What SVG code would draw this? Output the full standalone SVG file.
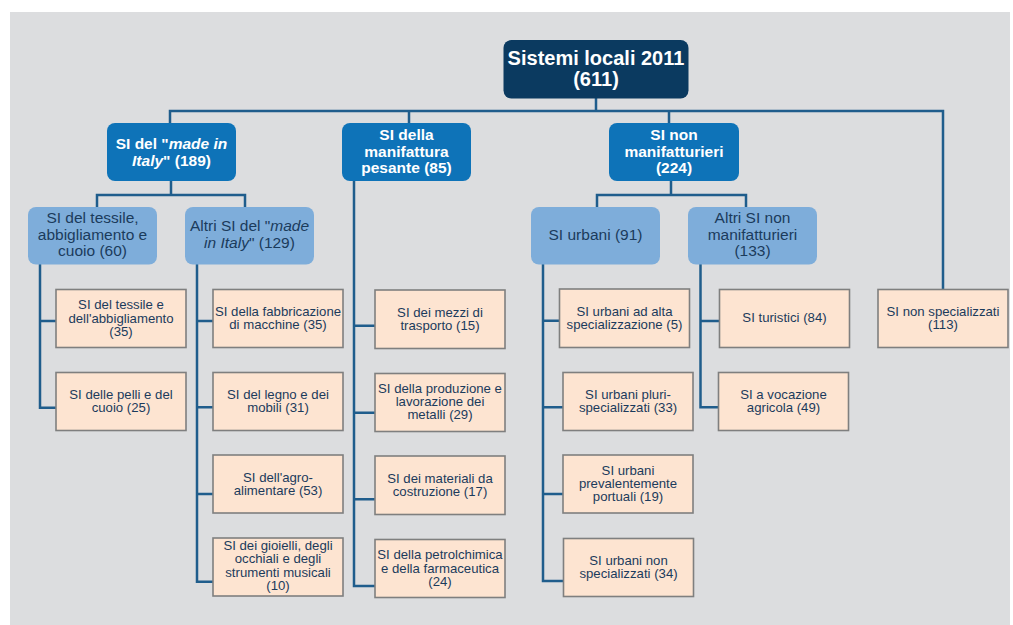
<svg xmlns="http://www.w3.org/2000/svg" width="1013" height="625" viewBox="0 0 1013 625">
<style>
.root{fill:#0b3a60;}
.l1{fill:#0e73b8;}
.l2{fill:#7eadda;}
.leaf{fill:#fde4d1;stroke:#7f7f7f;stroke-width:1.6;}
.conn{fill:none;stroke:#1f5d8c;stroke-width:2.5;}
text{font-family:"Liberation Sans",Arial,sans-serif;text-anchor:middle;}
.tw{fill:#ffffff;font-weight:bold;font-size:15.5px;}
.tr{fill:#ffffff;font-weight:bold;font-size:20px;}
.t2{fill:#1b3b5c;font-size:15.5px;}
.t3{fill:#1b3b5c;font-size:13.2px;}
.i{font-style:italic;}
</style>
<rect x="10" y="12" width="1000" height="613" fill="#dcdddf"/>
<g id="connectors">
<path class="conn" d="M596,98 V111 M170,124 V111 H943 V289.5 M409,111 V124 M669,111 V124"/>
<path class="conn" d="M171,181 V195 M97,207 V195 H245 V207"/>
<path class="conn" d="M671,181 V195 M597,207 V195 H746 V207"/>
<path class="conn" d="M40,264 V407.7 H56 M40,321 H56"/>
<path class="conn" d="M197,264 V581.7 H213 M197,321 H213 M197,407.3 H213 M197,494 H213"/>
<path class="conn" d="M354,181 V586 H375 M354,325.7 H375 M354,412.7 H375 M354,499.3 H375"/>
<path class="conn" d="M543,264 V581 H563.5 M543,320.7 H559.5 M543,407.3 H563 M543,494 H563"/>
<path class="conn" d="M700.5,264 V407.3 H718.5 M700.5,321 H719.5"/>
</g>
<g id="n-root"><rect class="root" x="503.5" y="40" width="185" height="58.5" rx="8"/>
<text class="tr" x="596" y="65">Sistemi locali 2011</text><text class="tr" x="596" y="86">(611)</text></g>
<g id="n-made"><rect class="l1" x="107" y="123" width="129" height="58" rx="8"/>
<text class="tw" x="171.5" y="149">SI del "<tspan class="i">made in</tspan></text>
<text class="tw" x="171.5" y="166"><tspan class="i">Italy</tspan>" (189)</text></g>
<g id="n-pesante"><rect class="l1" x="342" y="123" width="129" height="58" rx="8"/>
<text class="tw" x="406.5" y="140">SI della</text><text class="tw" x="406.5" y="156.5">manifattura</text><text class="tw" x="406.5" y="172.5">pesante (85)</text></g>
<g id="n-nonman"><rect class="l1" x="609" y="123" width="130" height="58" rx="8"/>
<text class="tw" x="674" y="140">SI non</text><text class="tw" x="674" y="156.5">manifatturieri</text><text class="tw" x="674" y="172.5">(224)</text></g>
<g id="n-tessile60"><rect class="l2" x="28" y="207" width="129" height="57.5" rx="8"/>
<text class="t2" x="92.5" y="223">SI del tessile,</text><text class="t2" x="92.5" y="239.5">abbigliamento e</text><text class="t2" x="92.5" y="255.5">cuoio (60)</text></g>
<g id="n-altrimade"><rect class="l2" x="185" y="207" width="129" height="57.5" rx="8"/>
<text class="t2" x="249.5" y="231">Altri SI del "<tspan class="i">made</tspan></text>
<text class="t2" x="249.5" y="247.5"><tspan class="i">in Italy</tspan>" (129)</text></g>
<g id="n-urbani"><rect class="l2" x="531" y="207" width="129" height="57.5" rx="8"/>
<text class="t2" x="595.5" y="240">SI urbani (91)</text></g>
<g id="n-altrinon"><rect class="l2" x="688" y="207" width="129" height="57.5" rx="8"/>
<text class="t2" x="752.5" y="223">Altri SI non</text><text class="t2" x="752.5" y="239.5">manifatturieri</text><text class="t2" x="752.5" y="255.5">(133)</text></g>
<g id="n-tessile35"><rect class="leaf" x="56" y="289.5" width="130" height="58"/>
<text class="t3" x="121" y="309.3">SI del tessile e</text><text class="t3" x="121" y="322.7">dell'abbigliamento</text><text class="t3" x="121" y="336">(35)</text></g>
<g id="n-pelli"><rect class="leaf" x="56" y="372.5" width="130" height="58"/>
<text class="t3" x="121" y="399">SI delle pelli e del</text><text class="t3" x="121" y="412.3">cuoio (25)</text></g>
<g id="n-macchine"><rect class="leaf" x="213" y="289.5" width="130" height="58"/>
<text class="t3" x="278" y="316">SI della fabbricazione</text><text class="t3" x="278" y="329.3">di macchine (35)</text></g>
<g id="n-legno"><rect class="leaf" x="213" y="372.5" width="130" height="58"/>
<text class="t3" x="278" y="399">SI del legno e dei</text><text class="t3" x="278" y="412.3">mobili (31)</text></g>
<g id="n-agro"><rect class="leaf" x="213" y="455" width="130" height="58"/>
<text class="t3" x="278" y="481.7">SI dell'agro-</text><text class="t3" x="278" y="495">alimentare (53)</text></g>
<g id="n-gioielli"><rect class="leaf" x="213" y="538" width="130" height="58"/>
<text class="t3" x="278" y="550">SI dei gioielli, degli</text><text class="t3" x="278" y="563.3">occhiali e degli</text><text class="t3" x="278" y="576.7">strumenti musicali</text><text class="t3" x="278" y="590">(10)</text></g>
<g id="n-mezzi"><rect class="leaf" x="375" y="290" width="130" height="58.5"/>
<text class="t3" x="440" y="316.7">SI dei mezzi di</text><text class="t3" x="440" y="330">trasporto (15)</text></g>
<g id="n-metalli"><rect class="leaf" x="375" y="373.5" width="130" height="58"/>
<text class="t3" x="440" y="392.7">SI della produzione e</text><text class="t3" x="440" y="406">lavorazione dei</text><text class="t3" x="440" y="419.3">metalli (29)</text></g>
<g id="n-materiali"><rect class="leaf" x="375" y="456" width="130" height="58.5"/>
<text class="t3" x="440" y="482.7">SI dei materiali da</text><text class="t3" x="440" y="496">costruzione (17)</text></g>
<g id="n-petrol"><rect class="leaf" x="375" y="539.5" width="130" height="58"/>
<text class="t3" x="440" y="559.3">SI della petrolchimica</text><text class="t3" x="440" y="572.7">e della farmaceutica</text><text class="t3" x="440" y="586">(24)</text></g>
<g id="n-urbalta"><rect class="leaf" x="559.5" y="289" width="130" height="58.5"/>
<text class="t3" x="624.5" y="316">SI urbani ad alta</text><text class="t3" x="624.5" y="329.3">specializzazione (5)</text></g>
<g id="n-urbpluri"><rect class="leaf" x="563" y="372.5" width="130" height="58"/>
<text class="t3" x="628" y="399">SI urbani pluri-</text><text class="t3" x="628" y="412.3">specializzati (33)</text></g>
<g id="n-urbport"><rect class="leaf" x="563" y="455" width="130" height="58"/>
<text class="t3" x="628" y="474.7">SI urbani</text><text class="t3" x="628" y="488">prevalentemente</text><text class="t3" x="628" y="501.3">portuali (19)</text></g>
<g id="n-urbnon"><rect class="leaf" x="563.5" y="538.5" width="130" height="58"/>
<text class="t3" x="628.5" y="565">SI urbani non</text><text class="t3" x="628.5" y="578.3">specializzati (34)</text></g>
<g id="n-turistici"><rect class="leaf" x="719.5" y="289.5" width="130" height="58"/>
<text class="t3" x="784.5" y="321.7">SI turistici (84)</text></g>
<g id="n-agricola"><rect class="leaf" x="718.5" y="372.5" width="130" height="58"/>
<text class="t3" x="783.5" y="399">SI a vocazione</text><text class="t3" x="783.5" y="412.3">agricola (49)</text></g>
<g id="n-nonspec"><rect class="leaf" x="878" y="289.5" width="130" height="58"/>
<text class="t3" x="943" y="316">SI non specializzati</text><text class="t3" x="943" y="329.3">(113)</text></g>
</svg>
